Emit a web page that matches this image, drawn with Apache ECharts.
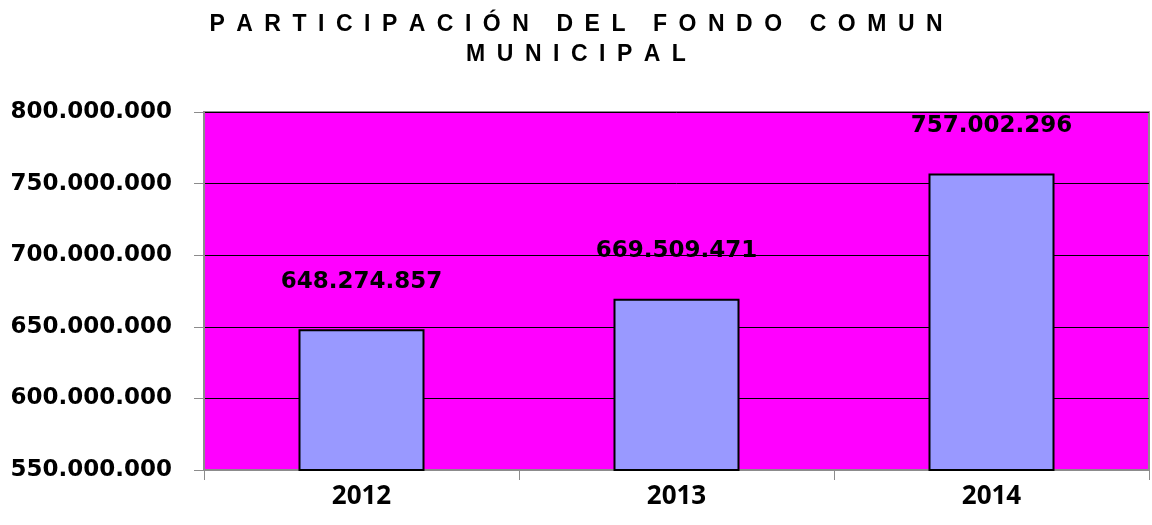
<!DOCTYPE html>
<html>
<head>
<meta charset="utf-8">
<script src="https://cdn.jsdelivr.net/npm/echarts@6/dist/echarts.min.js"></script>
<style>
  html, body { margin: 0; padding: 0; background: #fff; }
  #main { width: 1152px; height: 525px; }
</style>
</head>
<body>
<div id="main"></div>
<script>
// datos
const years = ['2012', '2013', '2014']
const fondoComun = [648274857, 669509471, 757002296]
const yMin = 550000000
const yMax = 800000000
const yStep = 50000000

const titleLines = ['PARTICIPACIÓN DEL FONDO COMUN', 'MUNICIPAL']

// separador de miles con punto
function fmt(v) {
  return String(Math.round(v)).replace(/\B(?=(\d{3})+(?!\d))/g, '.')
}

// espaciado de letras como en el original
function spaced(line) {
  return line.split(' ').map(w => w.split('').join('\u2002')).join('\u2002\u2002\u2009')
}

const myChart = echarts.init(document.getElementById('main'))
const option = {
  animation: false,
  title: {
    text: titleLines.map(spaced).join('\n'),
    left: 'center',
    top: 10,
    padding: 0,
    textStyle: {
      fontFamily: 'Liberation Sans',
      fontWeight: 'bold',
      fontSize: 23,
      lineHeight: 30,
      color: '#000',
    },
  },
  grid: {
    left: 204,
    right: 3,
    top: 112,
    bottom: 55,
    show: true,
    backgroundColor: '#FF00FF',
    borderColor: '#8c8c8c',
    borderWidth: 2,
  },
  xAxis: {
    type: 'category',
    data: years,
    axisLine: { lineStyle: { color: '#8c8c8c', width: 1 } },
    axisTick: { show: true, length: 10, lineStyle: { color: '#8c8c8c' } },
    axisLabel: {
      margin: 14,
      color: '#000',
      fontFamily: 'Open Sans',
      fontWeight: 'bold',
      fontSize: 26,
    },
  },
  yAxis: {
    type: 'value',
    min: yMin,
    max: yMax,
    interval: yStep,
    axisLine: { show: true, lineStyle: { color: '#8c8c8c', width: 2 } },
    axisTick: { show: true, length: 10, lineStyle: { color: '#8c8c8c' } },
    splitLine: { lineStyle: { color: '#000', width: 1 } },
    axisLabel: {
      margin: 32,
      color: '#000',
      fontFamily: 'DejaVu Sans',
      fontWeight: 'bold',
      fontSize: 23,
      formatter: fmt,
    },
  },
  series: [
    {
      type: 'bar',
      data: fondoComun,
      barWidth: '40%',
      itemStyle: {
        color: '#9999FF',
        borderColor: '#000',
        borderWidth: 2,
      },
      label: {
        show: true,
        position: 'top',
        distance: 36,
        color: '#000',
        fontFamily: 'DejaVu Sans',
        fontWeight: 'bold',
        fontSize: 23,
        formatter: (p) => fmt(p.value),
      },
    },
  ],
}
myChart.setOption(option)
</script>
</body>
</html>
